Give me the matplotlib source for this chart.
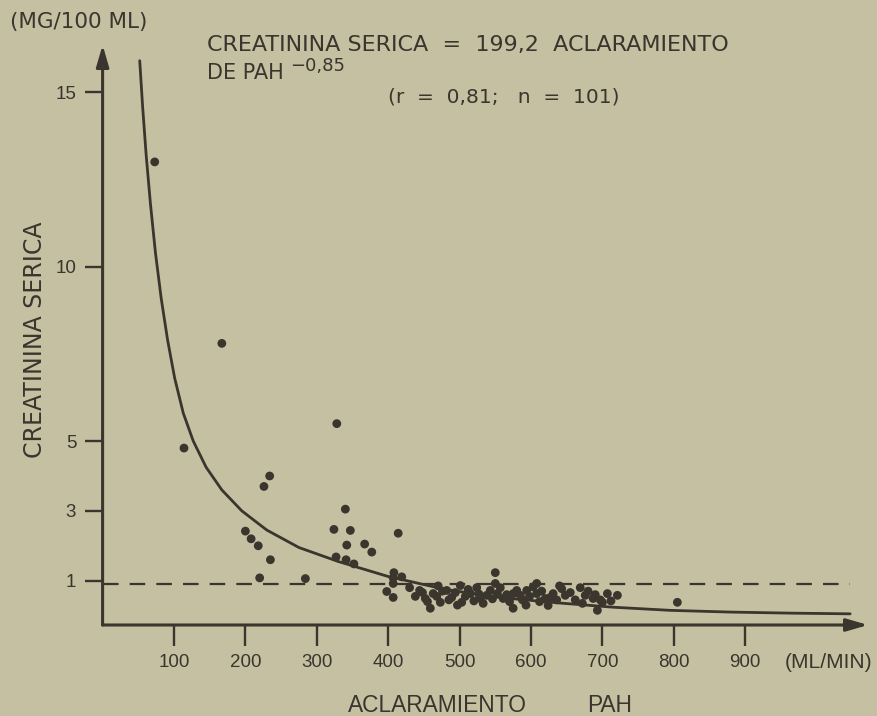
import matplotlib
matplotlib.use("Agg")
import matplotlib.pyplot as plt

# fitted curve
curve_x = [52, 56, 61, 67, 74, 82, 91, 101, 113, 127, 145, 167, 195, 230, 275,
           330, 400, 480, 555, 640, 715, 795, 880, 963, 1047]
curve_y = [15.9, 14.6, 13.2, 11.8, 10.4, 9.1, 7.9, 6.8, 5.8, 5.0, 4.25, 3.6, 3.0,
           2.45, 1.95, 1.55, 1.12, 0.75, 0.52, 0.36, 0.24, 0.15, 0.1, 0.07, 0.05]

# patients (n = 101)
pah = [73, 167, 114, 328, 234, 226, 200, 208, 218, 235, 220, 284, 340, 324, 347,
       342, 367, 377, 327, 341, 352, 414, 408, 407, 419, 407, 398, 407, 550, 805,
       444, 459, 452, 463, 473, 482, 489, 501, 503, 515, 524, 529, 538, 550, 553,
       561, 575, 575, 585, 594, 608, 608, 620, 624, 631, 643, 648, 669, 676, 687,
       693, 700, 707, 721,
       430, 438, 448, 455, 468, 476, 485, 494, 497, 508, 512, 520, 527, 533, 543,
       546, 557, 566, 570, 580, 588, 598, 603, 612, 615, 627, 636, 640, 655, 662,
       672, 680, 690, 697, 712, 470, 593]
creat = [13.0, 7.8, 4.8, 5.5, 4.0, 3.7, 2.42, 2.2, 2.0, 1.6, 1.08, 1.06, 3.05, 2.47,
         2.44, 2.02, 2.05, 1.82, 1.68, 1.6, 1.48, 2.36, 1.23, 1.08, 1.11, 0.92, 0.69,
         0.52, 1.23, 0.38,
         0.72, 0.21, 0.49, 0.63, 0.38, 0.72, 0.52, 0.86, 0.38, 0.63, 0.80, 0.49, 0.58,
         0.92, 0.63, 0.49, 0.21, 0.63, 0.58, 0.72, 0.92, 0.63, 0.49, 0.29, 0.63, 0.77,
         0.58, 0.80, 0.58, 0.49, 0.15, 0.38, 0.63, 0.58,
         0.80, 0.55, 0.66, 0.40, 0.55, 0.70, 0.45, 0.66, 0.30, 0.55, 0.75, 0.42, 0.62,
         0.35, 0.72, 0.48, 0.80, 0.60, 0.40, 0.72, 0.45, 0.55, 0.82, 0.40, 0.70, 0.52,
         0.45, 0.85, 0.66, 0.45, 0.35, 0.70, 0.60, 0.45, 0.42, 0.85, 0.30]

normal_limit = 0.9
x_ticks = [100, 200, 300, 400, 500, 600, 700, 800, 900]
y_ticks = [1, 3, 5, 10, 15]

paper = "#c5c0a2"
ink = "#3a352d"
plt.rcParams["font.family"] = ["Liberation Sans", "DejaVu Sans"]
wide = ["DejaVu Sans"]

fig = plt.figure(figsize=(8.78, 7.16), dpi=100, facecolor=paper)
ax = fig.add_axes([102.6 / 878, 1 - 625 / 716, (868 - 102.6) / 878, (625 - 45) / 716])
ax.set_facecolor(paper)
ax.set_xlim(0, 1072)
ax.set_ylim(-0.27, 16.35)

ax.plot(curve_x, curve_y, color=ink, lw=2.0, solid_capstyle="round")
ax.plot([0, 1047], [normal_limit, normal_limit], color=ink, lw=1.6, dashes=(7, 5))
ax.scatter(pah, creat, s=40, color=ink, edgecolor="none", zorder=3)

for s in ["top", "right", "left", "bottom"]:
    ax.spines[s].set_visible(False)

# axes drawn as arrows
ax.annotate("", xy=(0, 16.35), xytext=(0, -0.27),
            arrowprops=dict(arrowstyle="-|>,head_length=1.3,head_width=0.38",
                            color=ink, lw=2.2, shrinkA=0, shrinkB=0))
ax.annotate("", xy=(1072, -0.27), xytext=(0, -0.27),
            arrowprops=dict(arrowstyle="-|>,head_length=1.3,head_width=0.38",
                            color=ink, lw=2.2, shrinkA=0, shrinkB=0))

ax.set_xticks(x_ticks)
ax.set_xticklabels([str(t) for t in x_ticks], fontsize=13.5)
ax.set_yticks(y_ticks)
ax.set_yticklabels([str(t) for t in y_ticks], fontsize=13.5)
ax.tick_params(axis="x", direction="out", length=15, width=1.7, color=ink,
               labelcolor=ink, pad=6)
ax.tick_params(axis="y", direction="out", length=13, width=1.7, color=ink,
               labelcolor=ink, pad=6)


def put(x, y, s, **kw):
    fig.text(x / 878, 1 - y / 716, s, color=ink, **kw)


put(10, 22, "(MG/100 ML)", family=wide, fontsize=15.5, va="center")
put(207, 45, "CREATININA SERICA  =  199,2  ACLARAMIENTO", family=wide,
    fontsize=16, va="center")
put(207, 73, "DE PAH", family=wide, fontsize=15, va="center")
put(290, 66, "\u22120,85", family=wide, fontsize=13, va="center")
put(388, 97, "(r  =  0,81;   n  =  101)", family=wide, fontsize=14.5, va="center")
put(35, 340, "CREATININA SERICA", family=wide, fontsize=17, rotation=90,
    ha="center", va="center")
put(437, 706, "ACLARAMIENTO", fontsize=16.4, ha="center", va="center")
put(610, 706, "PAH", fontsize=16.4, ha="center", va="center")
put(785, 663, "(ML/MIN)", fontsize=15.1, va="center")

fig.savefig("out.png", dpi=100, facecolor=paper)
